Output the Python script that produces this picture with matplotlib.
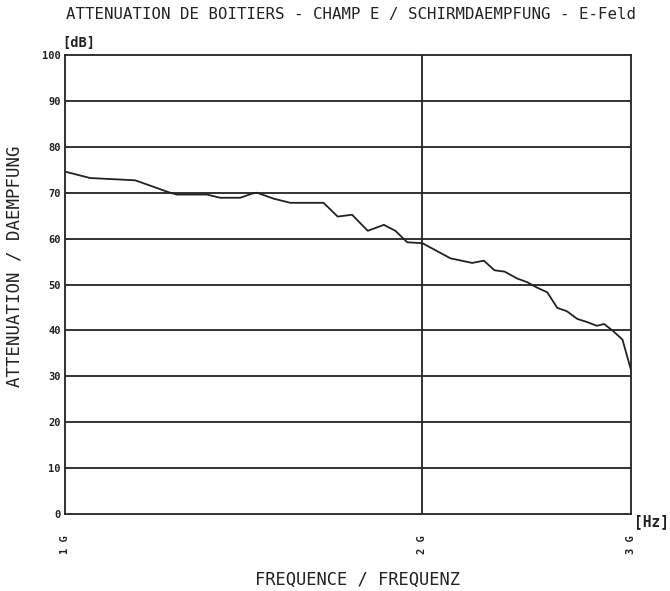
import numpy as np
import matplotlib.pyplot as plt
from matplotlib.ticker import FixedLocator, NullLocator

# measured curve (frequency in GHz, attenuation in dB)
freq_ghz = [1.000, 1.050, 1.146, 1.226, 1.242, 1.317, 1.351, 1.405, 1.437,
            1.451, 1.499, 1.548, 1.651, 1.697, 1.745, 1.799, 1.856, 1.898,
            1.942, 2.000, 2.112, 2.203, 2.253, 2.300, 2.346, 2.404, 2.451,
            2.499, 2.548, 2.598, 2.646, 2.701, 2.754, 2.805, 2.845, 2.897,
            2.948, 3.000]
atten_db = [74.6, 73.2, 72.7, 70.0, 69.6, 69.6, 68.9, 68.9, 69.8,
            70.0, 68.7, 67.8, 67.8, 64.8, 65.2, 61.7, 63.0, 61.7,
            59.2, 59.0, 55.7, 54.7, 55.2, 53.1, 52.8, 51.3, 50.5,
            49.3, 48.3, 44.9, 44.2, 42.5, 41.8, 41.0, 41.4, 39.8,
            38.0, 31.0]

y_ticks = [0, 10, 20, 30, 40, 50, 60, 70, 80, 90, 100]
x_ticks = [1, 2, 3]
x_labels = ["1 G", "2 G", "3 G"]

mono = "DejaVu Sans Mono"
ink = "#222222"

fig = plt.figure(figsize=(6.7, 5.91), dpi=100)
ax = fig.add_axes([0.097, 0.1303, 0.8455, 0.7766])

ax.plot(np.array(freq_ghz), atten_db, color=ink, lw=1.3)

ax.set_xscale("log")
ax.set_xlim(1, 3)
ax.set_ylim(0, 100)
ax.xaxis.set_major_locator(FixedLocator(x_ticks))
ax.xaxis.set_minor_locator(NullLocator())
ax.set_xticklabels(x_labels, rotation=90, fontsize=7.5, fontweight="bold",
                   family=mono)
ax.set_yticks(y_ticks)
ax.set_yticklabels([str(v) for v in y_ticks], fontsize=7.5, fontweight="bold",
                   family=mono)
ax.tick_params(length=0, pad=3, colors=ink)
ax.tick_params(axis="x", pad=15)

for v in y_ticks[1:-1]:
    ax.axhline(v, color=ink, lw=1.3)
ax.axvline(2, color=ink, lw=1.3)
for s in ax.spines.values():
    s.set_color(ink)
    s.set_linewidth(1.3)

fig.text(0.524, 0.975, "ATTENUATION DE BOITIERS - CHAMP E / SCHIRMDAEMPFUNG - E-Feld",
         ha="center", va="center", fontsize=11.3, family=mono, color=ink)
fig.text(0.093, 0.927, "[dB]", ha="left", va="center", fontsize=9.8,
         family=mono, fontweight="bold", color=ink)
fig.text(0.946, 0.117, "[Hz]", ha="left", va="center", fontsize=10.5,
         family=mono, fontweight="bold", color=ink)
fig.text(0.022, 0.55, "ATTENUATION / DAEMPFUNG", rotation=90, ha="center",
         va="center", fontsize=12.5, family=mono, color=ink)
fig.text(0.533, 0.019, "FREQUENCE / FREQUENZ", ha="center", va="center",
         fontsize=12.3, family=mono, color=ink)

fig.savefig("out.png", dpi=100)
